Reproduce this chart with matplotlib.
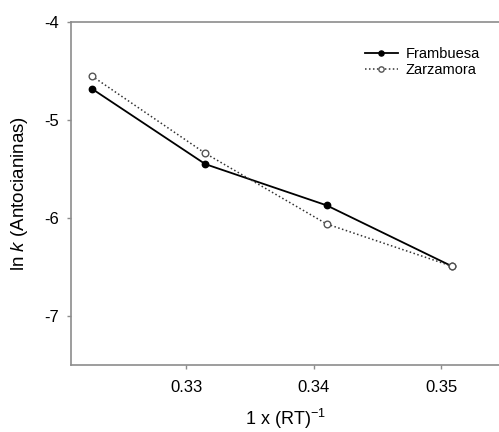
import matplotlib
matplotlib.use("Agg")
from matplotlib import pyplot as plt

# %% --------------- DATA ---------------
inv_rt = [0.3226, 0.3315, 0.3410, 0.3508]
frambuesa = [-4.68, -5.45, -5.87, -6.49]
zarzamora = [-4.55, -5.34, -6.06, -6.49]

x_ticks = [0.33, 0.34, 0.35]
y_ticks = [-4, -5, -6, -7]

# %% --------------- PLOT ---------------
plt.rcParams['font.family'] = ['Liberation Sans', 'DejaVu Sans']
plt.rcParams['mathtext.fontset'] = 'custom'
plt.rcParams['mathtext.it'] = 'Liberation Sans:italic'
plt.rcParams['mathtext.rm'] = 'Liberation Sans'

fig = plt.figure(figsize=(4.99, 4.32), dpi=100)
ax = fig.add_axes([0.1423, 0.155, 0.8597, 0.794])

ax.plot(inv_rt, frambuesa, color="black", lw=1.3, marker="o", ms=4.6,
        mfc="black", mec="black", label="Frambuesa")
ax.plot(inv_rt, zarzamora, color="#333333", lw=1.1, ls=(0, (1, 1.6)), marker="o",
        ms=4.8, mfc="white", mec="#555555", mew=1.0, label="Zarzamora")

ax.set_xlim(0.32097, 0.3546)
ax.set_ylim(-7.5, -4)
ax.set_xticks(x_ticks)
ax.set_xticklabels(["0.33", "0.34", "0.35"])
ax.set_yticks(y_ticks)
ax.set_yticklabels(["-4", "-5", "-6", "-7"])

for side in ["left", "bottom", "top"]:
    ax.spines[side].set_color("#8c8c8c")
    ax.spines[side].set_linewidth(1.2)
ax.spines["right"].set_visible(False)
ax.tick_params(colors="#8c8c8c", labelcolor="black", length=3, width=1,
               labelsize=12)
ax.tick_params(axis="x", pad=8)
ax.tick_params(axis="y", pad=6)

ax.set_xlabel("1 x (RT)$^{-1}$", fontsize=13, labelpad=8)
ax.set_ylabel("ln $k$ (Antocianinas)", fontsize=13.5, labelpad=10)

ax.legend(loc="upper right", bbox_to_anchor=(0.98, 0.96), frameon=False,
          fontsize=10.5, handlelength=2.3, handletextpad=0.5, labelspacing=0.1,
          borderpad=0.3, markerscale=0.8)

fig.savefig("out.png", dpi=100)
